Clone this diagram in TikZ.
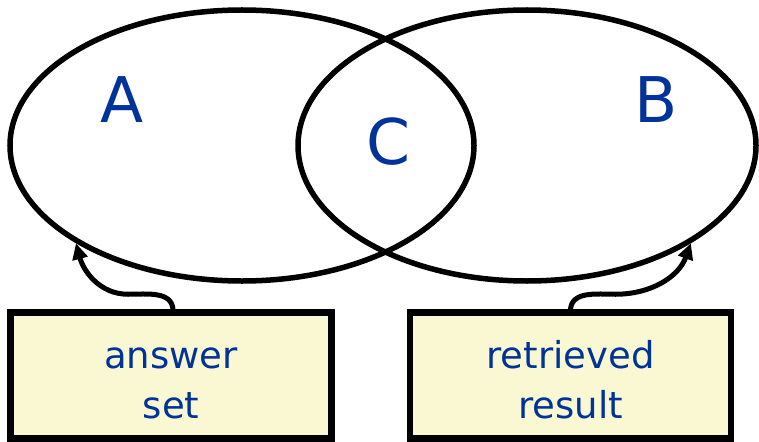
\documentclass[tikz,border=0pt]{standalone}
\usepackage{fontspec}
\setmainfont{DejaVu Sans}
\usetikzlibrary{arrows.meta,shapes.geometric}
\definecolor{setblue}{RGB}{0,51,153}
\definecolor{notefill}{RGB}{250,248,210}
\tikzset{
  setell/.style={draw, ellipse, line width=5.5pt, inner sep=0pt},
  setlbl/.style={text=setblue, inner sep=0pt, font=\fontsize{63}{70}\selectfont},
  note/.style={draw, rectangle, line width=6.5pt, fill=notefill, minimum width=321pt,
    minimum height=126pt, align=center, text=setblue, font=\fontsize{37}{50}\selectfont},
  arr/.style={-{Triangle[length=16pt,width=15pt]}, line width=5pt},
}
\begin{document}
\begin{tikzpicture}[x=1pt,y=1pt]
\useasboundingbox (0,0) rectangle (759,-441);

% Sets
\node[setell, minimum width=464pt, minimum height=271pt] (setA) at (242,-145.5) {};
\node[setell, minimum width=458pt, minimum height=271pt] (setB) at (527,-145.5) {};

\node[setlbl] (lblA) at (122,-100) {A};
\node[setlbl] (lblB) at (656,-100) {B};
\node[setlbl] (lblC) at (388,-142) {C};

% Notes
\node[note] (ansbox) at (171,-375.5) {\rule{0pt}{36pt}answer\\set};
\node[note] (resbox) at (570.5,-375.5) {\rule{0pt}{36pt}retrieved\\result};

% Arrows
\draw[arr] ([xshift=2pt]ansbox.north) to[out=95,in=0] ++(-45,15)
  to[out=180,in=-75] (setA.south west);
\draw[arr] (resbox.north) to[out=85,in=180] ++(45,15)
  to[out=0,in=-110] (setB.south east);

\end{tikzpicture}
\end{document}
